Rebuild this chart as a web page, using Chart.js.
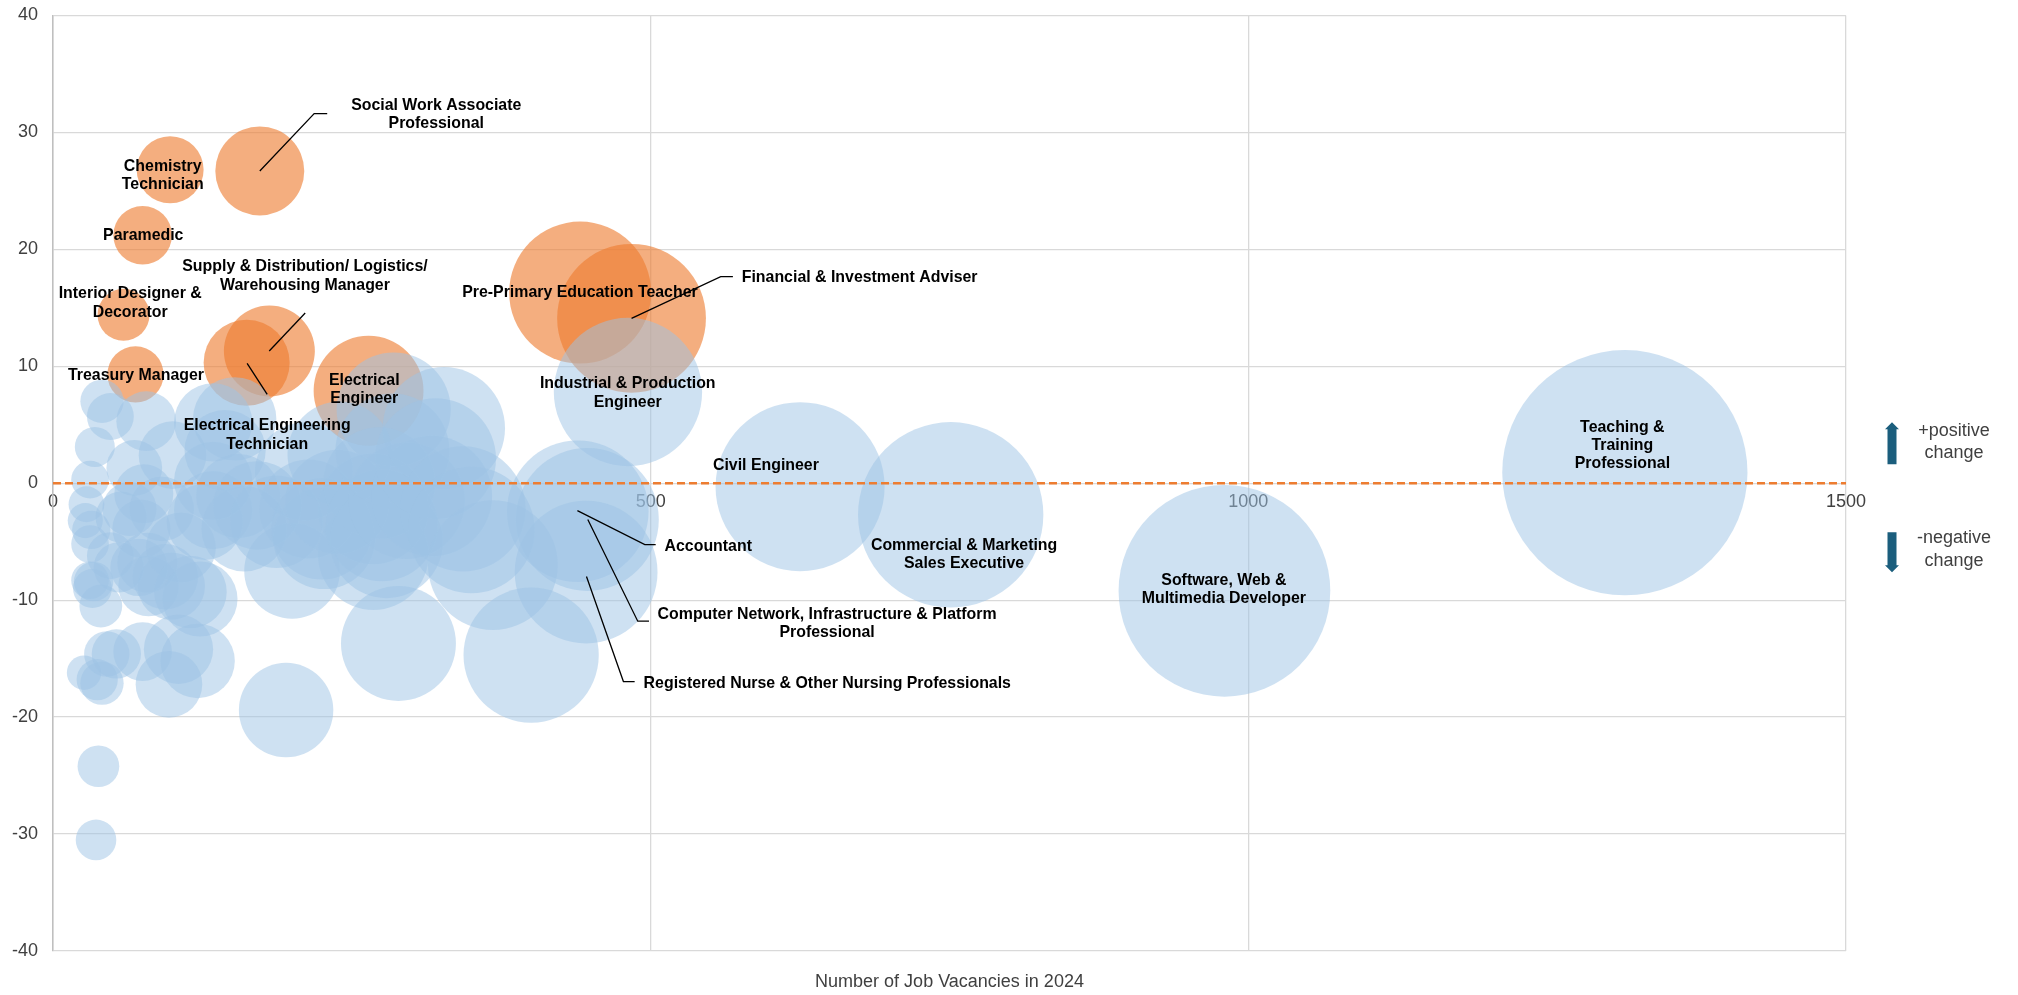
<!DOCTYPE html>
<html>
<head>
<meta charset="utf-8">
<script src="https://cdn.jsdelivr.net/npm/chart.js@4.4.1/dist/chart.umd.min.js"></script>
<style>
  html, body { margin: 0; padding: 0; background: #fff; }
  #wrap { width: 2018px; height: 995px; }
</style>
</head>
<body>
<div id="wrap"><canvas id="chart" width="2018" height="995"></canvas></div>
<script>
// occupations shown in orange (biggest growth)
const hotNames = ['Chemistry Technician', 'Social Work Associate Professional', 'Paramedic',
  'Interior Designer & Decorator', 'Treasury Manager',
  'Supply & Distribution/ Logistics/ Warehousing Manager', 'Electrical Engineering Technician',
  'Electrical Engineer', 'Pre-Primary Education Teacher', 'Financial & Investment Adviser'];
const hotVacancies = [98, 173, 75, 59, 69, 181, 162, 264, 441, 484];
const hotChange = [26.8, 26.7, 21.2, 14.4, 9.3, 11.3, 10.3, 7.9, 16.3, 14.1];

// named occupations in blue
const namedNames = ['Industrial & Production Engineer', 'Civil Engineer',
  'Commercial & Marketing Sales Executive', 'Software, Web & Multimedia Developer',
  'Teaching & Training Professional', 'Accountant',
  'Computer Network, Infrastructure & Platform Professional',
  'Registered Nurse & Other Nursing Professionals'];
const namedVacancies = [481, 625, 751, 980, 1315, 439, 447, 446];
const namedChange = [7.8, -0.3, -2.7, -9.2, 0.9, -2.4, -3.1, -7.6];

// remaining occupations (unlabelled blue bubbles)
const otherVacancies = [41, 48, 35, 31, 28, 27, 31, 32, 48, 34, 31, 33, 40, 57, 55, 64,
  26, 37, 41, 45, 53, 38, 36,
  78, 68, 76, 100, 91, 74, 72, 79, 80, 99, 94, 107, 115, 123, 127, 134, 134, 134, 152, 144,
  155, 160, 171, 187,
  75, 105, 121, 97, 195,
  200, 210, 214, 225, 227, 238, 240, 268, 268, 273, 275, 279, 285, 284, 296, 317, 320, 327,
  343, 350, 368, 289, 400];
const otherChange = [7.0, 5.7, 3.1, 0.3, -1.8, -3.2, -5.2, -4.0, -6.2, -8.4, -8.3, -9.0, -10.5, -2.9, -7.2, -2.2,
  -16.2, -16.8, -17.1, -14.6, -14.6, -24.2, -30.5,
  5.3, 1.3, -0.9, 2.4, -2.2, -3.9, -7.2, -6.8, -8.8, -8.8, -8.0, -5.5, -9.3, -9.9, -3.3, 0.2, -2.3, 5.2, 5.5, 2.8,
  -1.1, -3.9, -1.9, -3.3,
  -14.4, -14.2, -15.2, -17.2, -19.4,
  -7.5, 1.0, -2.2, -3.9, -4.7, -1.6, 2.5, -2.2, -6.1, 0.0, -3.6, -5.0, 6.3, 2.8, -1.5, -1.1, 2.1, 4.7,
  -2.2, -4.0, -7.0, -13.7, -14.7];

const xTicks = [0, 500, 1000, 1500];
const yTicks = [-40, -30, -20, -10, 0, 10, 20, 30, 40];

// label text + where it sits (data units), optional leader line
const notes = [
  {lines: ['Social Work Associate', 'Professional'], at: [320.6, 31.5], leader: [[173, 26.7], [218.5, 31.6], [229.4, 31.6]]},
  {lines: ['Chemistry', 'Technician'], at: [91.8, 26.3]},
  {lines: ['Paramedic'], at: [75.5, 21.2]},
  {lines: ['Interior Designer &', 'Decorator'], at: [64.6, 15.4]},
  {lines: ['Treasury Manager'], at: [69.4, 9.2]},
  {lines: ['Supply & Distribution/ Logistics/', 'Warehousing Manager'], at: [210.8, 17.7], leader: [[211, 14.55], [180.9, 11.3]]},
  {lines: ['Electrical Engineering', 'Technician'], at: [179.2, 4.1], leader: [[162.4, 10.25], [179.2, 7.6]]},
  {lines: ['Electrical', 'Engineer'], at: [260.4, 8.0]},
  {lines: ['Pre-Primary Education Teacher'], at: [440.8, 16.3]},
  {lines: ['Financial & Investment Adviser'], at: [576.2, 17.6], align: 'left', leader: [[484, 14.1], [558.6, 17.66], [568.8, 17.66]]},
  {lines: ['Industrial & Production', 'Engineer'], at: [480.8, 7.7]},
  {lines: ['Civil Engineer'], at: [596.4, 1.5]},
  {lines: ['Commercial & Marketing', 'Sales Executive'], at: [762.2, -6.1]},
  {lines: ['Software, Web &', 'Multimedia Developer'], at: [979.5, -9.1]},
  {lines: ['Teaching &', 'Training', 'Professional'], at: [1312.9, 3.2], lh: 18},
  {lines: ['Accountant'], at: [511.6, -5.4], align: 'left', leader: [[438.7, -2.34], [495.1, -5.25], [504.2, -5.25]]},
  {lines: ['Computer Network, Infrastructure & Platform', 'Professional'], at: [647.6, -12.0], leader: [[447.4, -3.11], [489.2, -11.8], [498.6, -11.8]]},
  {lines: ['Registered Nurse & Other Nursing Professionals'], at: [494.1, -17.15], align: 'left', leader: [[446.3, -7.98], [477.2, -16.96], [486.6, -16.96]]}
];

const toPoints = (xs, ys) => xs.map((v, i) => ({x: v, y: ys[i]}));
const maxVacancy = Math.max(...hotVacancies, ...namedVacancies, ...otherVacancies);

// bubble area proportional to vacancies (Excel style: largest radius ~13% of plot height)
function bubbleRadius(ctx) {
  const area = ctx.chart.chartArea;
  const h = area ? area.bottom - area.top : 936;
  return 0.131 * h * Math.sqrt(ctx.raw.x / maxVacancy);
}

const labelPlugin = {
  id: 'bubbleLabels',
  afterDatasetsDraw(chart) {
    const {ctx, scales: {x, y}} = chart;
    ctx.save();
    ctx.strokeStyle = '#000';
    ctx.lineWidth = 1.3;
    notes.forEach(n => {
      if (!n.leader) return;
      ctx.beginPath();
      n.leader.forEach((p, i) => {
        const px = x.getPixelForValue(p[0]), py = y.getPixelForValue(p[1]);
        if (i === 0) ctx.moveTo(px, py); else ctx.lineTo(px, py);
      });
      ctx.stroke();
    });
    ctx.fillStyle = '#000';
    ctx.font = 'bold 15.9px "Liberation Sans", Arial, sans-serif';
    ctx.textBaseline = 'middle';
    notes.forEach(n => {
      const lh = n.lh || 18.5;
      ctx.textAlign = n.align || 'center';
      const cx = x.getPixelForValue(n.at[0]);
      const cy = y.getPixelForValue(n.at[1]) - (n.lines.length - 1) * lh / 2;
      n.lines.forEach((t, i) => ctx.fillText(t, cx, cy + i * lh));
    });
    ctx.restore();
  },
  afterDraw(chart) {
    const {ctx, chartArea, scales: {y}} = chart;
    const zy = y.getPixelForValue(0);
    ctx.save();
    // axis title
    ctx.fillStyle = '#404040';
    ctx.font = '18px "Liberation Sans", Arial, sans-serif';
    ctx.textAlign = 'center';
    ctx.textBaseline = 'middle';
    ctx.fillText('Number of Job Vacancies in 2024', (chartArea.left + chartArea.right) / 2, chart.height - 13);

    // +/- key on the right
    const ax = chartArea.right + 46;
    ctx.fillStyle = '#1b5e7d';
    const arrow = (tipY, baseY) => {
      const dir = Math.sign(baseY - tipY);
      const headEnd = tipY + dir * 7;
      ctx.beginPath();
      ctx.moveTo(ax, tipY);
      ctx.lineTo(ax + 7, headEnd);
      ctx.lineTo(ax + 4.5, headEnd);
      ctx.lineTo(ax + 4.5, baseY);
      ctx.lineTo(ax - 4.5, baseY);
      ctx.lineTo(ax - 4.5, headEnd);
      ctx.lineTo(ax - 7, headEnd);
      ctx.closePath();
      ctx.fill();
    };
    arrow(zy - 61, zy - 19);
    arrow(zy + 89, zy + 49);
    ctx.fillStyle = '#404040';
    const tx = chartArea.right + 108;
    ctx.fillText('+positive', tx, zy - 52);
    ctx.fillText('change', tx, zy - 30.5);
    ctx.fillText('-negative', tx, zy + 54.5);
    ctx.fillText('change', tx, zy + 77.5);
    ctx.restore();
  }
};

const tickFont = {size: 18, family: '"Liberation Sans", Arial, sans-serif'};

new Chart(document.getElementById('chart'), {
  type: 'bubble',
  data: {
    datasets: [
      {
        type: 'line',
        data: [{x: xTicks[0], y: 0}, {x: xTicks[xTicks.length - 1], y: 0}],
        borderColor: '#ED7D31',
        borderWidth: 2.6,
        borderDash: [8, 4],
        pointRadius: 0,
        order: 0
      },
      {
        data: toPoints(namedVacancies, namedChange).concat(toPoints(otherVacancies, otherChange)),
        backgroundColor: 'rgba(157, 195, 230, 0.5)',
        borderWidth: 0,
        radius: bubbleRadius,
        order: 1
      },
      {
        data: toPoints(hotVacancies, hotChange),
        backgroundColor: 'rgba(237, 125, 49, 0.62)',
        borderWidth: 0,
        radius: bubbleRadius,
        order: 2
      }
    ]
  },
  options: {
    responsive: false,
    animation: false,
    devicePixelRatio: 1,
    layout: {autoPadding: false, padding: {left: 0, right: 172, top: 15.4, bottom: 44}},
    plugins: {legend: {display: false}, tooltip: {enabled: false}},
    scales: {
      x: {
        type: 'linear',
        min: xTicks[0],
        max: xTicks[xTicks.length - 1],
        position: {y: 0},
        afterBuildTicks: s => { s.ticks = xTicks.map(v => ({value: v})); },
        ticks: {color: '#404040', font: tickFont, padding: 8, callback: v => String(v)},
        grid: {color: '#d9d9d9', lineWidth: 1.3, drawTicks: false},
        border: {display: false}
      },
      y: {
        min: yTicks[0],
        max: yTicks[yTicks.length - 1],
        afterBuildTicks: s => { s.ticks = yTicks.map(v => ({value: v})); },
        afterFit: s => { s.width = 53; s.paddingTop = 0; s.paddingBottom = 0; },
        ticks: {color: '#404040', font: tickFont, padding: 15, callback: v => String(v)},
        grid: {color: '#d9d9d9', lineWidth: 1.3, drawTicks: false},
        border: {color: '#bfbfbf', width: 1.5}
      }
    }
  },
  plugins: [labelPlugin]
});
</script>
</body>
</html>
